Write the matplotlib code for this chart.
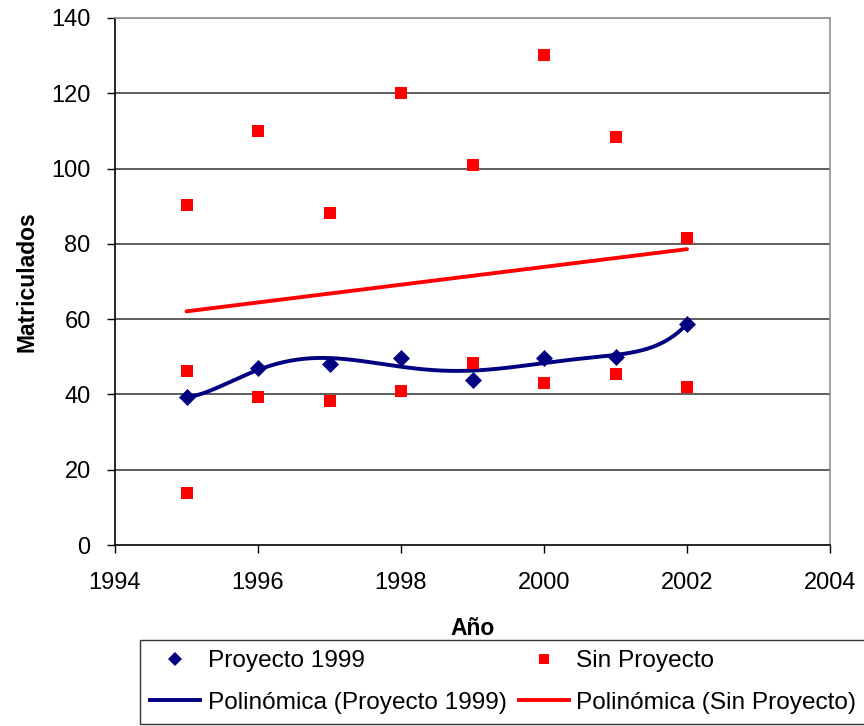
import numpy as np
import matplotlib
matplotlib.use("Agg")
import matplotlib.pyplot as plt
from matplotlib.lines import Line2D

plt.rcParams['font.family'] = ['Liberation Sans', 'DejaVu Sans']

# Data
years_proy = [1995, 1996, 1997, 1998, 1999, 2000, 2001, 2002]
proyecto_1999 = [39.2, 47.0, 48.2, 49.8, 43.9, 49.8, 50.0, 58.8]

years_sin = [1995, 1995, 1995, 1996, 1996, 1997, 1997, 1998, 1998,
             1999, 1999, 2000, 2000, 2001, 2001, 2002, 2002]
sin_proyecto = [90.3, 46.3, 13.9, 110.0, 39.4, 88.2, 38.3, 120.1, 40.9,
                101.0, 48.4, 130.2, 43.1, 108.4, 45.3, 81.6, 42.0]

trend_deg_proy = 6
trend_deg_sin = 1

xlim = (1994, 2004)
ylim = (0, 140)
xticks = [1994, 1996, 1998, 2000, 2002, 2004]
yticks = [0, 20, 40, 60, 80, 100, 120, 140]

navy = '#000080'
red = '#FF0000'

fig = plt.figure(figsize=(8.64, 7.26), dpi=100)
ax = fig.add_axes([115/864, 1-545/726, (830-115)/864, (545-18)/726])

# trendlines (polynomial fits of the data)
xp = np.array(years_proy, float)
cp = np.polyfit(xp - 1998.5, np.array(proyecto_1999), trend_deg_proy)
xx = np.linspace(min(years_proy), max(years_proy), 300)
ax.plot(xx, np.polyval(cp, xx - 1998.5), color=navy, lw=2.8, zorder=2, solid_capstyle='round')

xs = np.array(years_sin, float)
cs = np.polyfit(xs - 1998.5, np.array(sin_proyecto), trend_deg_sin)
xx2 = np.linspace(min(years_sin), max(years_sin), 300)
ax.plot(xx2, np.polyval(cs, xx2 - 1998.5), color=red, lw=2.8, zorder=2, solid_capstyle='round')

ax.scatter(years_proy, proyecto_1999, marker='D', s=75, color=navy, zorder=3, linewidths=0)
ax.scatter(years_sin, sin_proyecto, marker='s', s=80, color=red, zorder=3, linewidths=0)

ax.set_xlim(*xlim)
ax.set_ylim(*ylim)
ax.set_xticks(xticks)
ax.set_yticks(yticks)
ax.tick_params(axis='both', direction='out', length=6, width=1, labelsize=17, color='black')
ax.tick_params(axis='x', pad=13.5)
ax.tick_params(axis='y', pad=11.5)
for y in yticks[1:]:
    ax.axhline(y, color='#303030' if y < 140 else '#909090', lw=1.1, zorder=1)

ax.spines['left'].set_color('black')
ax.spines['bottom'].set_color('black')
ax.spines['top'].set_color('#909090')
ax.spines['right'].set_color('#909090')
for s in ax.spines.values():
    s.set_linewidth(1.2)

ax.set_xlabel('Año', fontsize=16.5, fontweight='bold', labelpad=16.5)
ax.set_ylabel('Matriculados', fontsize=16.5, fontweight='bold', labelpad=9)

handles = [
    Line2D([], [], marker='D', color=navy, linestyle='None', markersize=7, markeredgewidth=0),
    Line2D([], [], color=navy, lw=2.8),
    Line2D([], [], marker='s', color=red, linestyle='None', markersize=6.5, markeredgewidth=0),
    Line2D([], [], color=red, lw=2.8),
]
labels = ['Proyecto 1999', 'Polinómica (Proyecto 1999)', 'Sin Proyecto', 'Polinómica (Sin Proyecto)']
leg = fig.legend(handles, labels, ncol=2, loc='upper left',
                 bbox_to_anchor=(140/864, 1-640/726), borderaxespad=0,
                 fontsize=17.6, frameon=True, fancybox=False,
                 edgecolor='black', borderpad=0.42, handlelength=2.05, handletextpad=0.3,
                 labelspacing=0.78, columnspacing=0.5)
leg.get_frame().set_linewidth(1.0)

fig.savefig('out.png', dpi=100)
